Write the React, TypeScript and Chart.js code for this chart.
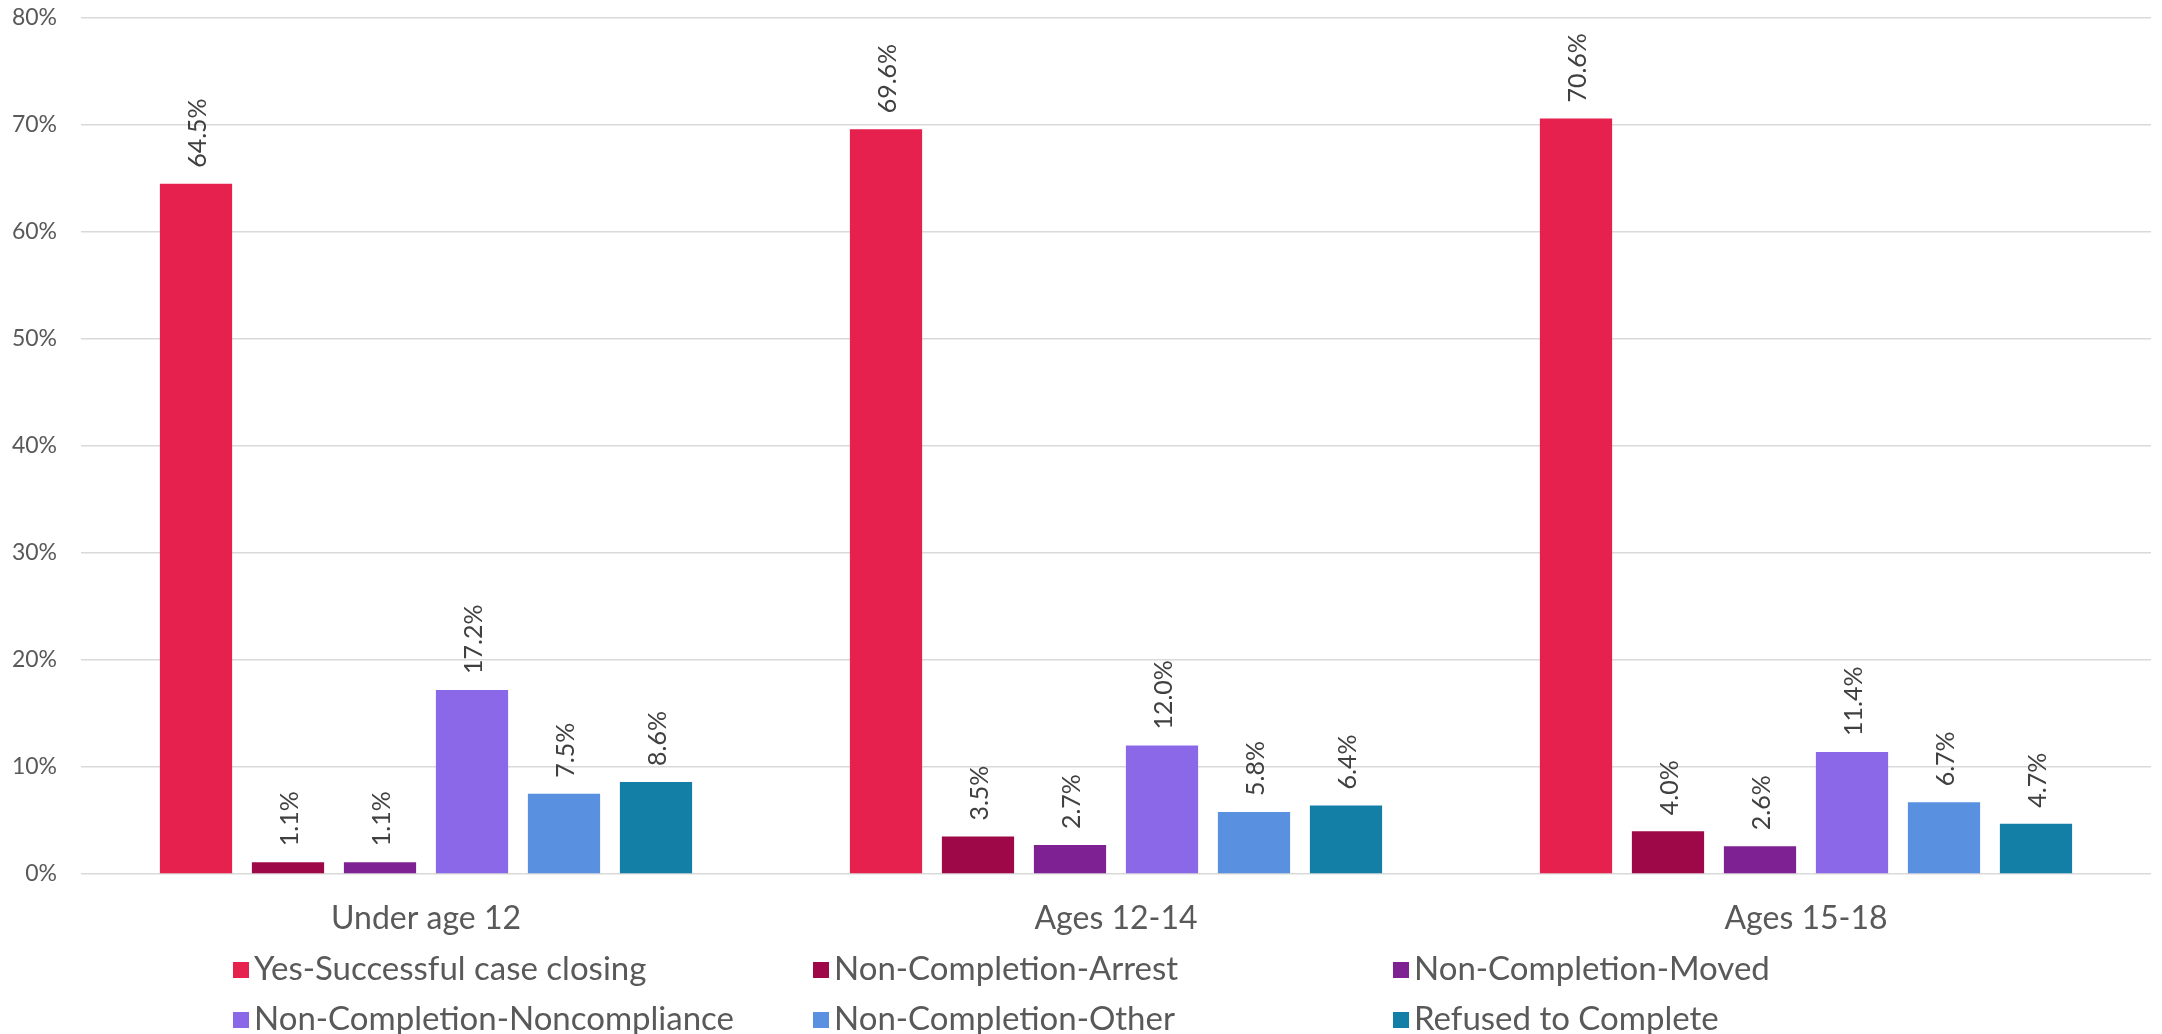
import React, { useEffect, useRef } from "react";
import { Chart, registerables } from "chart.js";

Chart.register(...registerables);

const FONT = "Lato";

const categories = ["Under age 12", "Ages 12-14", "Ages 15-18"];
const seriesNames = [
  "Yes-Successful case closing",
  "Non-Completion-Arrest",
  "Non-Completion-Moved",
  "Non-Completion-Noncompliance",
  "Non-Completion-Other",
  "Refused to Complete",
];
const seriesColors = ["#E6214D", "#9E0849", "#7E2293", "#8B68E8", "#5A90E0", "#147FA6"];

const successful = [64.5, 69.6, 70.6];
const arrest = [1.1, 3.5, 4.0];
const moved = [1.1, 2.7, 2.6];
const noncompliance = [17.2, 12.0, 11.4];
const other = [7.5, 5.8, 6.7];
const refused = [8.6, 6.4, 4.7];

const seriesValues = [successful, arrest, moved, noncompliance, other, refused];

const yMin = 0;
const yMax = 80;
const yStep = 10;

const W = 2162;
const H = 1034;

const barLabelPlugin = {
  id: "barLabels",
  afterDatasetsDraw(chart: any) {
    const ctx = chart.ctx;
    ctx.save();
    ctx.font = `25px ${FONT}`;
    ctx.fillStyle = "#404040";
    chart.data.datasets.forEach((ds: any, di: number) => {
      const meta = chart.getDatasetMeta(di);
      meta.data.forEach((bar: any, i: number) => {
        const v = ds.data[i];
        ctx.save();
        ctx.translate(bar.x + 2, bar.y - 16);
        ctx.rotate(-Math.PI / 2);
        ctx.textAlign = "left";
        ctx.textBaseline = "middle";
        ctx.fillText(v.toFixed(1) + "%", 0, 0);
        ctx.restore();
      });
    });
    ctx.restore();
  },
};

const legendPlugin = {
  id: "gridLegend",
  afterDraw(chart: any) {
    const ctx = chart.ctx;
    const colX = [233, 813, 1393];
    const rowBase = [980, 1030];
    ctx.save();
    ctx.font = `33px ${FONT}`;
    ctx.textAlign = "left";
    ctx.textBaseline = "alphabetic";
    chart.data.datasets.forEach((ds: any, i: number) => {
      const col = i % 3;
      const row = Math.floor(i / 3);
      const x = colX[col];
      const b = rowBase[row];
      ctx.fillStyle = ds.backgroundColor;
      ctx.fillRect(x, b - 18, 16, 16);
      ctx.fillStyle = "#595959";
      ctx.fillText(ds.label, x + 21, b);
    });
    ctx.restore();
  },
};

export default function App() {
  const canvasRef = useRef<HTMLCanvasElement | null>(null);

  useEffect(() => {
    document.body.style.margin = "0";
    document.body.style.overflow = "hidden";
    const canvas = canvasRef.current;
    if (!canvas) return;
    const chart = new Chart(canvas, {
      type: "bar",
      data: {
        labels: categories,
        datasets: seriesNames.map((name, i) => ({
          label: name,
          data: seriesValues[i],
          backgroundColor: seriesColors[i],
          borderWidth: 0,
          categoryPercentage: 0.8,
          barPercentage: 0.785,
        })),
      },
      options: {
        responsive: false,
        animation: false,
        devicePixelRatio: 1,
        layout: { padding: { top: 18, right: 11, left: 0, bottom: 0 } },
        plugins: {
          legend: { display: false },
          tooltip: { enabled: false },
        },
        scales: {
          x: {
            grid: { display: false, drawTicks: false },
            border: { display: false },
            ticks: {
              color: "#595959",
              font: { family: FONT, size: 32 },
              padding: 25,
            },
            afterFit: (scale: any) => {
              scale.height = 160;
            },
          },
          y: {
            min: yMin,
            max: yMax,
            grid: { color: "#d9d9d9", lineWidth: 1.5, drawTicks: false },
            border: { display: false },
            ticks: {
              stepSize: yStep,
              color: "#595959",
              font: { family: FONT, size: 23 },
              padding: 24,
              callback: (v: any) => v + "%",
            },
            afterFit: (scale: any) => {
              scale.width = 81;
              scale.paddingTop = 0;
              scale.paddingBottom = 0;
            },
          },
        },
      },
      plugins: [barLabelPlugin, legendPlugin],
    });
    return () => chart.destroy();
  }, []);

  return (
    <div style={{ width: W, height: H, background: "#fff" }}>
      <canvas ref={canvasRef} width={W} height={H} style={{ display: "block" }} />
    </div>
  );
}
